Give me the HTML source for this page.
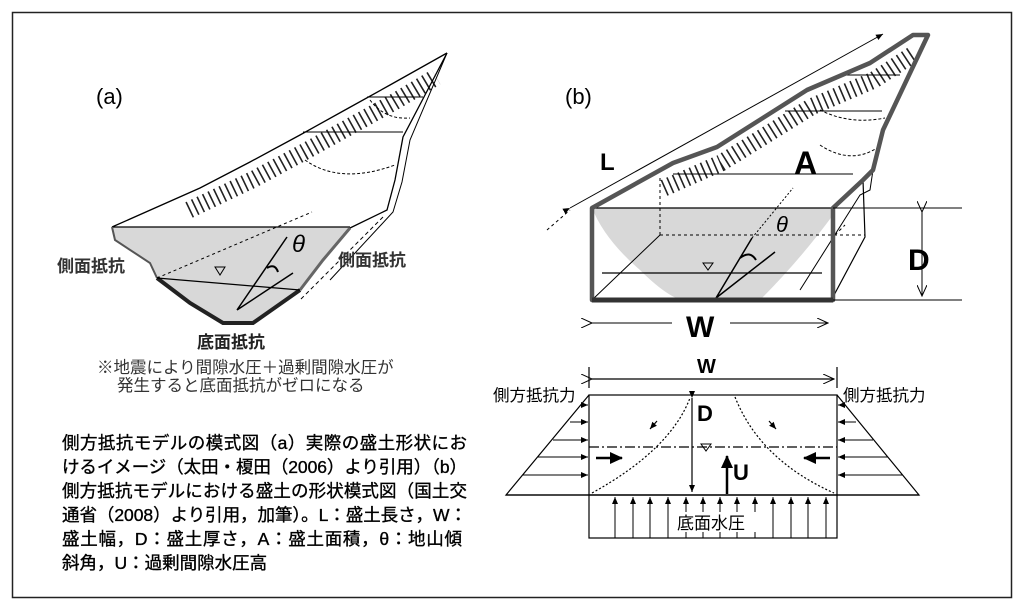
<!DOCTYPE html>
<html><head><meta charset="utf-8"><style>
html,body{margin:0;padding:0;background:#fff;}
svg{display:block}
text{font-family:"Liberation Sans","Noto Sans CJK JP",sans-serif;}
.cap text{stroke:#000;stroke-width:0.35}
</style></head><body>
<svg width="1024" height="612" viewBox="0 0 1024 612" xmlns="http://www.w3.org/2000/svg">
<defs>
<marker id="ah" markerWidth="8" markerHeight="8" refX="7" refY="4" orient="auto" markerUnits="userSpaceOnUse"><path d="M0,1 L7,4 L0,7 Z" fill="#000"/></marker>
<marker id="oa" markerWidth="12" markerHeight="10" refX="11" refY="5" orient="auto" markerUnits="userSpaceOnUse"><path d="M0,0 L11,5 L0,10" fill="none" stroke="#000" stroke-width="1"/></marker>
<marker id="big" markerWidth="14" markerHeight="12" refX="12" refY="6" orient="auto" markerUnits="userSpaceOnUse"><path d="M0,0 L13,6 L0,12 Z" fill="#000"/></marker>
</defs>
<rect x="12.5" y="12.5" width="999" height="585" fill="none" stroke="#222" stroke-width="1.5"/>

<!-- (a) -->
<text x="96" y="104" font-size="22">(a)</text>
<polygon points="112,227 350,227 323,260 300,290 253,323 223,323 190,303 157,278 150,263 115,240" fill="#d8d8d8"/>
<path d="M185,201 L250,170 L300,143 L345,118 L390,93 L432,68" fill="none" stroke="#222" stroke-width="17" stroke-dasharray="1.6 4.5" transform="translate(4,9)"/>
<path d="M112,227 L200,188 L250,162 L300,135 L345,110 L390,85 L447,53" fill="none" stroke="#000" stroke-width="1.3"/>
<path d="M447,53 L403,137 L395,180 L387,210 L350,228" fill="none" stroke="#000" stroke-width="1.3"/>
<path d="M447,53 L410,140 L402,182 L393,212 L330,280" fill="none" stroke="#000" stroke-width="1"/>
<path d="M383,217 L300,300" fill="none" stroke="#000" stroke-width="1" stroke-dasharray="4 3"/>
<line x1="112" y1="227" x2="350" y2="227" stroke="#000" stroke-width="1.3"/>
<line x1="367" y1="97" x2="423" y2="97" stroke="#000"/>
<line x1="303" y1="132" x2="403" y2="132" stroke="#000"/>
<path d="M370,100 Q385,120 410,118" fill="none" stroke="#000" stroke-dasharray="3 2"/>
<path d="M305,160 Q340,185 395,165" fill="none" stroke="#000" stroke-dasharray="3 2"/>
<path d="M112,227 L115,240 L150,263 L157,278" fill="none" stroke="#555" stroke-width="2"/>
<path d="M157,278 L190,303 L223,323 L253,323 L300,290" fill="none" stroke="#222" stroke-width="4"/>
<path d="M300,290 L323,260 L350,228" fill="none" stroke="#666" stroke-width="3"/>
<line x1="157" y1="278" x2="300" y2="290" stroke="#000" stroke-width="1.2"/>
<line x1="157" y1="278" x2="312" y2="212" stroke="#000" stroke-dasharray="3 3"/>
<path d="M237,310 L287,237 M237,310 L293,273" stroke="#000" stroke-width="1.5" fill="none"/>
<path d="M267,268 Q275,263 278,272" fill="none" stroke="#000" stroke-width="2"/>
<path d="M215,267 L225,267 L220,275 Z" fill="none" stroke="#000"/>
<text x="292" y="252" font-size="24" font-style="italic">θ</text>
<text x="57" y="272" font-size="17" font-weight="bold" fill="#333">側面抵抗</text>
<text x="338" y="266" font-size="17" font-weight="bold" fill="#333">側面抵抗</text>
<text x="197" y="348" font-size="17" font-weight="bold" fill="#222">底面抵抗</text>
<text x="97" y="373" font-size="16.5" fill="#333">※地震により間隙水圧＋過剰間隙水圧が</text>
<text x="117" y="391" font-size="16.5" fill="#333">発生すると底面抵抗がゼロになる</text>

<!-- caption -->
<g class="cap" font-size="17.5" fill="#000">
<text x="62" y="449" textLength="405">側方抵抗モデルの模式図（a）実際の盛土形状にお</text>
<text x="62" y="473" textLength="405">けるイメージ（太田・榎田（2006）より引用）（b）</text>
<text x="62" y="497" textLength="405">側方抵抗モデルにおける盛土の形状模式図（国土交</text>
<text x="62" y="521" textLength="405">通省（2008）より引用，加筆）。L：盛土長さ，W：</text>
<text x="62" y="545" textLength="400">盛土幅，D：盛土厚さ，A：盛土面積，θ：地山傾</text>
<text x="62" y="569">斜角，U：過剰間隙水圧高</text>
</g>

<!-- (b) -->
<text x="565" y="104" font-size="22">(b)</text>
<path d="M592,208 Q605,240 640,270 Q680,310 700,300 L760,300 Q800,260 833,215 L833,208 Z" fill="#d8d8d8"/>
<path d="M660,178 L717,153 L807,97 L870,70 L908,45" fill="none" stroke="#222" stroke-width="17" stroke-dasharray="1.6 4.5" transform="translate(4,10)"/>
<line x1="673" y1="174" x2="853" y2="174" stroke="#000"/>
<line x1="785" y1="111" x2="882" y2="111" stroke="#000"/>
<line x1="840" y1="75" x2="900" y2="75" stroke="#000"/>
<path d="M820,110 Q850,125 885,118" fill="none" stroke="#000" stroke-dasharray="3 2"/>
<path d="M820,145 Q850,165 877,148" fill="none" stroke="#000" stroke-dasharray="3 2"/>
<line x1="660" y1="178" x2="660" y2="235" stroke="#000" stroke-dasharray="3 3"/>
<line x1="660" y1="235" x2="865" y2="235" stroke="#000" stroke-dasharray="3 3"/>
<line x1="660" y1="235" x2="592" y2="300" stroke="#000"/>
<path d="M592,208 L833,208" stroke="#000" stroke-width="1.3"/>
<path d="M863,180 L865,237 L833,297" fill="none" stroke="#000" stroke-width="1.2"/>
<path d="M883,130 L873,170 L870,190 L860,195 L800,290" fill="none" stroke="#000" stroke-width="1"/>
<line x1="835" y1="235" x2="845" y2="225" stroke="#000" stroke-dasharray="3 3"/>
<line x1="602" y1="273" x2="822" y2="273" stroke="#000" stroke-width="1.2"/>
<path d="M703,263 L713,263 L708,270 Z" fill="none" stroke="#000"/>
<path d="M716,298 L752,238 M716,298 L775,252" stroke="#000" stroke-width="1.5" fill="none"/>
<line x1="752" y1="238" x2="793" y2="188" stroke="#000" stroke-dasharray="2 2"/>
<path d="M740,258 Q750,250 756,260" fill="none" stroke="#000" stroke-width="2"/>
<text x="776" y="232" font-size="22" font-style="italic">θ</text>
<path d="M592,300 L592,208 L673,163 L717,147 L807,90 L870,63 L913,35 L928,35 L883,130 L873,170 L863,180 L833,208 L833,300 Z" fill="none" stroke="#555" stroke-width="4.5" stroke-linejoin="round"/>
<line x1="592" y1="300" x2="833" y2="300" stroke="#333" stroke-width="5"/>
<line x1="570" y1="208" x2="883" y2="34" stroke="#000" marker-end="url(#ah)" marker-start="url(#ah)"/>
<line x1="547" y1="230" x2="570" y2="210" stroke="#000" stroke-dasharray="3 3"/>
<line x1="833" y1="208" x2="962" y2="208" stroke="#000"/>
<line x1="833" y1="300" x2="962" y2="300" stroke="#000"/>
<line x1="922" y1="212" x2="922" y2="296" stroke="#000" marker-end="url(#oa)" marker-start="url(#oa)"/>
<text x="908" y="270" font-size="30" font-weight="bold">D</text>
<line x1="592" y1="323" x2="672" y2="323" stroke="#000" marker-start="url(#oa)"/>
<line x1="730" y1="323" x2="828" y2="323" stroke="#000" marker-end="url(#oa)"/>
<text x="686" y="337" font-size="30" font-weight="bold">W</text>
<text x="600" y="170" font-size="24" font-weight="bold">L</text>
<text x="794" y="174" font-size="32" font-weight="bold">A</text>

<!-- bottom diagram -->
<g stroke="#000" fill="none" stroke-width="1.2">
<line x1="589" y1="367" x2="589" y2="388"/>
<line x1="837" y1="367" x2="837" y2="388"/>
<line x1="592" y1="379" x2="834" y2="379" marker-start="url(#oa)" marker-end="url(#oa)"/>
<rect x="589" y="395" width="248" height="100"/>
<rect x="589" y="495" width="248" height="43"/>
<polyline points="589,395 506,495 589,495"/>
<polyline points="837,395 919,495 837,495"/>
<line x1="506" y1="495" x2="919" y2="495"/>
<line x1="589" y1="447" x2="837" y2="447" stroke-dasharray="10 3 2 3"/>
<line x1="692" y1="398" x2="692" y2="492" marker-start="url(#ah)" marker-end="url(#ah)"/>
<path d="M592,493 Q670,450 690,398" stroke-dasharray="2 2"/>
<path d="M735,397 Q760,460 834,493" stroke-dasharray="2 2"/>
</g>
<g stroke="#000" stroke-width="1">
<line x1="582" y1="405" x2="588" y2="405" marker-end="url(#ah)"/>
<line x1="570" y1="422" x2="588" y2="422" marker-end="url(#ah)"/>
<line x1="553" y1="440" x2="588" y2="440" marker-end="url(#ah)"/>
<line x1="538" y1="457" x2="588" y2="457" marker-end="url(#ah)"/>
<line x1="523" y1="475" x2="588" y2="475" marker-end="url(#ah)"/>
<line x1="844" y1="405" x2="838" y2="405" marker-end="url(#ah)"/>
<line x1="856" y1="422" x2="838" y2="422" marker-end="url(#ah)"/>
<line x1="873" y1="440" x2="838" y2="440" marker-end="url(#ah)"/>
<line x1="888" y1="457" x2="838" y2="457" marker-end="url(#ah)"/>
<line x1="903" y1="475" x2="838" y2="475" marker-end="url(#ah)"/>
</g>
<g stroke="#000" stroke-width="1">
<line x1="615" y1="538" x2="615" y2="497" marker-end="url(#ah)"/>
<line x1="633" y1="538" x2="633" y2="497" marker-end="url(#ah)"/>
<line x1="650" y1="538" x2="650" y2="497" marker-end="url(#ah)"/>
<line x1="668" y1="538" x2="668" y2="497" marker-end="url(#ah)"/>
<line x1="686" y1="538" x2="686" y2="497" marker-end="url(#ah)"/>
<line x1="703" y1="538" x2="703" y2="497" marker-end="url(#ah)"/>
<line x1="720" y1="538" x2="720" y2="497" marker-end="url(#ah)"/>
<line x1="737" y1="538" x2="737" y2="497" marker-end="url(#ah)"/>
<line x1="755" y1="538" x2="755" y2="497" marker-end="url(#ah)"/>
<line x1="773" y1="538" x2="773" y2="497" marker-end="url(#ah)"/>
<line x1="791" y1="538" x2="791" y2="497" marker-end="url(#ah)"/>
<line x1="808" y1="538" x2="808" y2="497" marker-end="url(#ah)"/>
<line x1="826" y1="538" x2="826" y2="497" marker-end="url(#ah)"/>
</g>
<rect x="676" y="512" width="84" height="20" fill="#fff"/>
<text x="677" y="529" font-size="17">底面水圧</text>
<g stroke="#000" stroke-width="2.5">
<line x1="727" y1="494" x2="727" y2="456" marker-end="url(#big)"/>
<line x1="596" y1="458" x2="622" y2="458" marker-end="url(#big)"/>
<line x1="830" y1="458" x2="804" y2="458" marker-end="url(#big)"/>
</g>
<g stroke="#000" stroke-width="1.2">
<line x1="657" y1="421" x2="650" y2="429" marker-end="url(#ah)"/>
<line x1="769" y1="421" x2="776" y2="429" marker-end="url(#ah)"/>
</g>
<path d="M701,444 L711,444 L706,451 Z" fill="none" stroke="#000"/>
<text x="697" y="421" font-size="22" font-weight="bold">D</text>
<text x="733" y="480" font-size="22" font-weight="bold">U</text>
<text x="697" y="373" font-size="20" font-weight="bold">W</text>
<text x="493" y="401" font-size="16.5">側方抵抗力</text>
<text x="843" y="401" font-size="16.5">側方抵抗力</text>
</svg>
</body></html>
